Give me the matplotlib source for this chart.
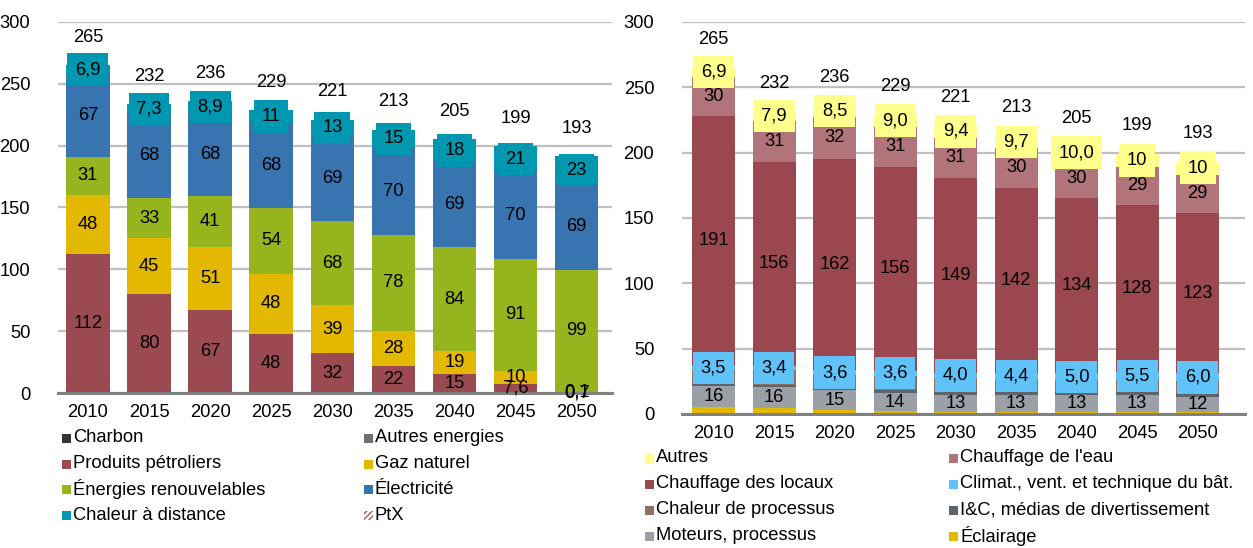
import matplotlib
matplotlib.use("Agg")
import matplotlib.pyplot as plt
from matplotlib.patches import Rectangle
import numpy as np

plt.rcParams['font.family'] = ['Liberation Sans', 'DejaVu Sans']
FS = 13.2

years = ["2010", "2015", "2020", "2025", "2030", "2035", "2040", "2045", "2050"]

# Left chart: by energy source
left_names = ["Charbon", "Autres energies", "Produits pétroliers", "Gaz naturel",
              "Énergies renouvelables", "Électricité", "Chaleur à distance", "PtX"]
charbon = [0, 0, 0, 0, 0, 0, 0, 0, 0]
autres_energies = [0, 0, 0, 0, 0, 0, 0, 0, 0]
produits_petroliers = [112, 80, 67, 48, 32, 22, 15, 7.6, 0.7]
gaz_naturel = [48, 45, 51, 48, 39, 28, 19, 10, 0.1]
energies_renouvelables = [31, 33, 41, 54, 68, 78, 84, 91, 99]
electricite = [67, 68, 68, 68, 69, 70, 69, 70, 69]
chaleur_distance = [6.9, 7.3, 8.9, 11, 13, 15, 18, 21, 23]
ptx = [0, 0, 0, 0, 0, 0, 0, 0, 0]
left_totals = [265, 232, 236, 229, 221, 213, 205, 199, 193]
left_colors = ["#333539", "#6b7079", "#9b4a52", "#e3b800", "#95b41e", "#3874b0", "#0097b0", "#b0505a"]

# Right chart: by end use
right_names = ["Éclairage", "Moteurs, processus", "I&C, médias de divertissement",
               "Chaleur de processus", "Climat., vent. et technique du bât.",
               "Chauffage des locaux", "Chauffage de l'eau", "Autres"]
eclairage = [5.5, 4.5, 3.0, 2.0, 1.8, 1.6, 1.5, 1.4, 1.3]
moteurs = [16, 16, 15, 14, 13, 13, 13, 13, 12]
ic_medias = [1.5, 1.8, 2.0, 2.2, 2.5, 2.5, 2.5, 2.5, 2.5]
chaleur_processus = [10.6, 11.4, 9.9, 11.2, 10.3, 9.8, 9.0, 9.6, 9.2]
climat = [3.5, 3.4, 3.6, 3.6, 4.0, 4.4, 5.0, 5.5, 6.0]
chauffage_locaux = [191, 156, 162, 156, 149, 142, 134, 128, 123]
chauffage_eau = [30, 31, 32, 31, 31, 30, 30, 29, 29]
autres = [6.9, 7.9, 8.5, 9.0, 9.4, 9.7, 9.97, 10.2, 10.1]
right_totals = [265, 232, 236, 229, 221, 213, 205, 199, 193]
right_colors = ["#e3b800", "#9aa0a6", "#5f646c", "#8c7163", "#5fc2f8", "#9a4750", "#b0747a", "#ffff8c"]


def fmt(v):
    if v < 10:
        return ("%.1f" % v).replace(".", ",")
    return "%d" % round(v)


def draw_stack(ax, series, colors, labelled, boxed, totals):
    x = np.arange(len(years))
    bottom = np.zeros(len(years))
    for i, (vals, col) in enumerate(zip(series, colors)):
        vals = np.array(vals, dtype=float)
        ax.bar(x, vals, bottom=bottom, width=0.71, color=col, zorder=2, linewidth=0)
        if labelled[i]:
            for xi, v, b in zip(x, vals, bottom):
                if v <= 0:
                    continue
                kw = {}
                if boxed[i]:
                    kw['bbox'] = dict(boxstyle='square,pad=0.42', facecolor=col, edgecolor='none')
                ax.text(xi, b + v / 2, fmt(v), ha='center', va='center', fontsize=FS,
                        color='black', zorder=4, **kw)
        bottom += vals
    for xi, t, top in zip(x, totals, bottom):
        ax.annotate(str(t), (xi, top), xytext=(0, 20), textcoords='offset points',
                    ha='center', va='center', fontsize=FS, color='black')
    ax.set_ylim(0, 300)
    ax.set_yticks([0, 50, 100, 150, 200, 250, 300])
    ax.set_xticks(x)
    ax.set_xticklabels(years)
    ax.tick_params(axis='both', length=0, labelsize=FS, colors='black')
    ax.tick_params(axis='y', pad=20)
    ax.tick_params(axis='x', pad=8)
    ax.grid(axis='y', color='#bfbfbf', linewidth=1.6, zorder=0)
    ax.set_axisbelow(True)
    for s in ['top', 'right', 'left']:
        ax.spines[s].set_visible(False)
    ax.spines['bottom'].set_color('#808080')
    ax.spines['bottom'].set_linewidth(2.2)
    ax.spines['bottom'].set_zorder(3)


W, H = 1253, 548
fig = plt.figure(figsize=(W / 100, H / 100), dpi=100)

axL = fig.add_axes([58 / W, 1 - 393 / H, (612 - 58) / W, (393 - 22) / H])
axL.set_xlim(-0.49, 8.58)
draw_stack(axL,
           [charbon, autres_energies, produits_petroliers, gaz_naturel,
            energies_renouvelables, electricite, chaleur_distance, ptx],
           left_colors,
           [False, False, True, True, True, True, True, False],
           [False, False, False, False, False, False, True, False],
           left_totals)

axR = fig.add_axes([682 / W, 1 - 414 / H, (1245 - 682) / W, (414 - 22) / H])
axR.set_xlim(-0.52, 8.78)
draw_stack(axR,
           [eclairage, moteurs, ic_medias, chaleur_processus, climat,
            chauffage_locaux, chauffage_eau, autres],
           right_colors,
           [False, True, False, False, True, True, True, True],
           [False, False, False, False, True, False, False, True],
           right_totals)


def legend(entries, colors, x0, x1, ys, hatch_idx=None):
    for k, (name, col) in enumerate(zip(entries, colors)):
        row, colm = divmod(k, 2)
        xm = x0 if colm == 0 else x1
        y = ys[row]
        sq = 9
        r = Rectangle((xm / W, 1 - (y + sq / 2) / H), sq / W, sq / H, transform=fig.transFigure,
                      facecolor=col if k != hatch_idx else 'white', edgecolor='none')
        if k == hatch_idx:
            r.set_hatch('//////')
            r.set_edgecolor(col)
            r.set_linewidth(0)
        fig.add_artist(r)
        fig.text((xm + 11) / W, 1 - y / H, name, ha='left', va='center', fontsize=FS)


legend(left_names, left_colors, 62, 364, [438, 464, 489, 515], hatch_idx=7)
right_legend_order = [7, 6, 5, 4, 3, 2, 1, 0]
legend([right_names[i] for i in right_legend_order],
       [right_colors[i] for i in right_legend_order],
       645, 949, [458, 484, 510, 536])

fig.savefig("out.png", dpi=100)
